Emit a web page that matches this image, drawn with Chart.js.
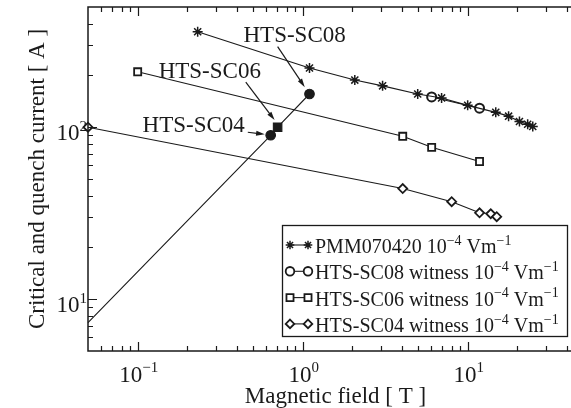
<!DOCTYPE html>
<html>
<head>
<meta charset="utf-8">
<script src="https://cdn.jsdelivr.net/npm/chart.js@4.4.1/dist/chart.umd.min.js"></script>
<style>
html, body { margin: 0; padding: 0; background: #fff; overflow: hidden; }
#wrap { width: 571px; height: 408px; overflow: hidden; }
</style>
</head>
<body>
<div id="wrap"><canvas id="chart" width="600" height="408"></canvas></div>
<script>
// Magnetic field [T] vs current [A]
const pmmField = [0.231, 1.10, 2.07, 3.05, 4.98, 6.95, 10.0, 14.8, 17.7, 20.6, 23.1, 24.8];
const pmmCurrent = [359, 221, 188, 174, 156, 148, 134, 122, 116, 108, 104, 101];

const sc08Field = [6.05, 11.8];
const sc08Current = [150, 129];

const sc06Field = [0.1, 4.04, 6.05, 11.8];
const sc06Current = [210, 88.6, 76.4, 63.2];

const sc04Field = [0.05, 4.04, 8.0, 11.8, 13.8, 15.0];
const sc04Current = [100, 44, 36.9, 31.8, 31.4, 30.2];

// quench currents of the three coils (first point is where the line leaves the axis)
const quenchField = [0.05, 0.64, 0.705, 1.10];
const quenchCurrent = [7.3, 89.8, 100, 156];
const quenchMarks = [false, 'circle', 'rect', 'circle'];

// annotations: text anchor, arrow tail, arrow head (field, current)
const noteText = ['HTS-SC08', 'HTS-SC06', 'HTS-SC04'];
const noteAt = [[0.438, 314], [0.134, 194], [0.107, 93.5]];
const arrowFrom = [[0.705, 294], [0.452, 183], [0.465, 93.5]];
const arrowTo = [[1.03, 171], [0.676, 110], [0.589, 91]];

// ticks
const xTickValues = [0.1, 1, 10];
const xTickLabels = [['10', '\u22121'], ['10', '0'], ['10', '1']];
const yTickValues = [10, 100];
const yTickLabels = [['10', '1'], ['10', '2']];

const legendNames = ['PMM070420', 'HTS-SC08 witness', 'HTS-SC06 witness', 'HTS-SC04 witness'];
const legendMarks = ['star', 'circle', 'rect', 'rectRot'];

const serif = '"Liberation Serif", "Times New Roman", serif';
const ink = '#1a1a1a';

function toPoints(xs, ys) {
    return xs.map((x, i) => ({ x: x, y: ys[i] }));
}

function lineSet(label, xs, ys, style, radius, width) {
    return {
        label: label,
        data: toPoints(xs, ys),
        showLine: true,
        borderColor: ink,
        borderWidth: 1.1,
        pointStyle: style,
        pointRadius: radius,
        pointBorderWidth: width,
        pointBorderColor: ink,
        pointBackgroundColor: style === 'star' ? ink : '#fff',
        clip: false
    };
}

// text with superscripts: parts = [[text, isSup], ...]
function drawParts(ctx, parts, x, y, size, supSize, align) {
    const widths = parts.map(p => {
        ctx.font = (p[1] ? supSize : size) + 'px ' + serif;
        return ctx.measureText(p[0]).width;
    });
    const total = widths.reduce((a, b) => a + b, 0);
    let cx = align === 'center' ? x - total / 2 : (align === 'right' ? x - total : x);
    ctx.textAlign = 'left';
    ctx.textBaseline = 'alphabetic';
    parts.forEach((p, i) => {
        ctx.font = (p[1] ? supSize : size) + 'px ' + serif;
        ctx.fillText(p[0], cx, p[1] ? y - size * 0.42 : y);
        cx += widths[i];
    });
}

function drawMarker(ctx, style, x, y, r) {
    ctx.beginPath();
    if (style === 'star') {
        const d = r * Math.SQRT1_2;
        ctx.moveTo(x - r, y); ctx.lineTo(x + r, y);
        ctx.moveTo(x, y - r); ctx.lineTo(x, y + r);
        ctx.moveTo(x - d, y - d); ctx.lineTo(x + d, y + d);
        ctx.moveTo(x - d, y + d); ctx.lineTo(x + d, y - d);
        ctx.stroke();
        return;
    }
    if (style === 'circle') {
        ctx.arc(x, y, r, 0, Math.PI * 2);
    } else if (style === 'rect') {
        const s = r * Math.SQRT1_2;
        ctx.rect(x - s, y - s, 2 * s, 2 * s);
    } else {
        ctx.moveTo(x, y - r); ctx.lineTo(x + r, y); ctx.lineTo(x, y + r); ctx.lineTo(x - r, y);
        ctx.closePath();
    }
    ctx.fillStyle = '#fff';
    ctx.fill();
    ctx.stroke();
}

const framePlugin = {
    id: 'frame',
    afterDraw(chart) {
        const ctx = chart.ctx;
        const a = chart.chartArea;
        const xs = chart.scales.x;
        const ys = chart.scales.y;
        ctx.save();
        ctx.strokeStyle = ink;
        ctx.fillStyle = ink;

        // left, bottom and top edges (right edge falls outside the picture)
        ctx.lineWidth = 1.5;
        ctx.beginPath();
        ctx.moveTo(a.right + 10, a.top); ctx.lineTo(a.left, a.top);
        ctx.lineTo(a.left, a.bottom); ctx.lineTo(a.right + 10, a.bottom);
        ctx.stroke();

        // inward ticks, major at decades
        ctx.lineWidth = 1.2;
        ctx.beginPath();
        for (let e = -2; e <= 2; e++) {
            for (let m = 1; m <= 9; m++) {
                const v = m * Math.pow(10, e);
                const len = m === 1 ? 9 : 5;
                if (v > xs.min && v < xs.max) {
                    const px = Math.round(xs.getPixelForValue(v)) + 0.5;
                    ctx.moveTo(px, a.bottom); ctx.lineTo(px, a.bottom - len);
                    ctx.moveTo(px, a.top); ctx.lineTo(px, a.top + len);
                }
                if (v > ys.min && v < ys.max) {
                    const py = Math.round(ys.getPixelForValue(v)) + 0.5;
                    ctx.moveTo(a.left, py); ctx.lineTo(a.left + len, py);
                }
            }
        }
        ctx.stroke();

        // tick labels
        xTickValues.forEach((v, i) => {
            const lab = xTickLabels[i];
            drawParts(ctx, [[lab[0], false], [lab[1], true]], xs.getPixelForValue(v) + 1, a.bottom + 31, 23, 15, 'center');
        });
        yTickValues.forEach((v, i) => {
            const lab = yTickLabels[i];
            drawParts(ctx, [[lab[0], false], [lab[1], true]], a.left - 1, ys.getPixelForValue(v) + 13, 23, 15, 'right');
        });

        // axis titles
        ctx.font = '23px ' + serif;
        ctx.textAlign = 'center';
        ctx.textBaseline = 'alphabetic';
        ctx.fillText('Magnetic field [ T ]', (a.left + a.right) / 2, 403);
        ctx.save();
        ctx.translate(44, (a.top + a.bottom) / 2);
        ctx.rotate(-Math.PI / 2);
        ctx.fillText('Critical and quench current [ A ]', 0, 0);
        ctx.restore();

        // annotations with arrows
        noteText.forEach((t, i) => {
            ctx.font = '23px ' + serif;
            ctx.textAlign = 'left';
            ctx.fillText(t, xs.getPixelForValue(noteAt[i][0]), ys.getPixelForValue(noteAt[i][1]));
            const x0 = xs.getPixelForValue(arrowFrom[i][0]);
            const y0 = ys.getPixelForValue(arrowFrom[i][1]);
            const x1 = xs.getPixelForValue(arrowTo[i][0]);
            const y1 = ys.getPixelForValue(arrowTo[i][1]);
            const ang = Math.atan2(y1 - y0, x1 - x0);
            ctx.lineWidth = 1.2;
            ctx.beginPath();
            ctx.moveTo(x0, y0);
            ctx.lineTo(x1 - 6 * Math.cos(ang), y1 - 6 * Math.sin(ang));
            ctx.stroke();
            ctx.beginPath();
            ctx.moveTo(x1, y1);
            ctx.lineTo(x1 - 9 * Math.cos(ang - 0.28), y1 - 9 * Math.sin(ang - 0.28));
            ctx.lineTo(x1 - 9 * Math.cos(ang + 0.28), y1 - 9 * Math.sin(ang + 0.28));
            ctx.closePath();
            ctx.fill();
        });

        // legend box
        const bx = a.right - 301, by = a.bottom - 126, bw = 285, bh = 111;
        ctx.fillStyle = '#fff';
        ctx.fillRect(bx, by, bw, bh);
        ctx.lineWidth = 1.3;
        ctx.strokeRect(bx + 0.5, by + 0.5, bw, bh);
        legendNames.forEach((name, i) => {
            const base = by + 28 + i * 26.3;
            const my = base - 8;
            ctx.strokeStyle = ink;
            ctx.lineWidth = 1.1;
            ctx.beginPath();
            ctx.moveTo(bx + 8, my); ctx.lineTo(bx + 26, my);
            ctx.stroke();
            ctx.lineWidth = legendMarks[i] === 'star' ? 1.5 : 1.8;
            const r = legendMarks[i] === 'rect' ? 5 : 4.3;
            drawMarker(ctx, legendMarks[i], bx + 8, my, r);
            drawMarker(ctx, legendMarks[i], bx + 26, my, r);
            ctx.fillStyle = ink;
            drawParts(ctx, [[name + ' 10', false], ['\u22124', true], [' Vm', false], ['\u22121', true]],
                bx + 33, base, 20, 14, 'left');
        });
        ctx.restore();
    }
};

new Chart(document.getElementById('chart'), {
    type: 'scatter',
    data: {
        datasets: [
            lineSet('PMM070420', pmmField, pmmCurrent, 'star', 5, 1.5),
            lineSet('HTS-SC08 witness', sc08Field, sc08Current, 'circle', 4.5, 2),
            lineSet('HTS-SC06 witness', sc06Field, sc06Current, 'rect', 5, 1.8),
            lineSet('HTS-SC04 witness', sc04Field, sc04Current, 'rectRot', 4.5, 1.8),
            {
                label: 'Quench',
                data: toPoints(quenchField, quenchCurrent),
                showLine: true,
                borderColor: ink,
                borderWidth: 1.1,
                pointStyle: quenchMarks,
                pointRadius: quenchMarks.map(m => m ? (m === 'rect' ? 6 : 4.8) : 0),
                pointBorderColor: ink,
                pointBackgroundColor: ink,
                clip: false
            }
        ]
    },
    options: {
        responsive: false,
        animation: false,
        events: [],
        layout: { padding: { top: 7, right: 17, left: 0, bottom: 0 } },
        plugins: { legend: { display: false }, tooltip: { enabled: false } },
        scales: {
            x: {
                type: 'logarithmic',
                min: 0.05,
                max: 50,
                grid: { display: false },
                border: { display: false },
                ticks: { display: false },
                afterFit: s => { s.height = 57; }
            },
            y: {
                type: 'logarithmic',
                min: 5,
                max: 500,
                grid: { display: false },
                border: { display: false },
                ticks: { display: false },
                afterFit: s => { s.width = 88; }
            }
        }
    },
    plugins: [framePlugin]
});
</script>
</body>
</html>
